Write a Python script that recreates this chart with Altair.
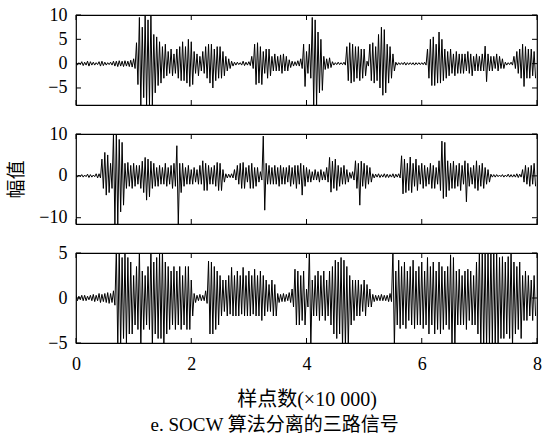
import altair as alt
import pandas as pd

# sample step of the envelope readings (x in units of 10 000 samples)
STEP = 0.05

# ---- panel 1: positive / negative peak envelope ----
p1_top = [
    0.3, 0.2, 0.4, 0.3, 0.5, 0.4, 0.3, 0.2, 0.4, 0.5, 0.3, 0.2, 0.3, 0.5, 0.5, 0.6, 0.5, 0.6, 0.5, 0.7,
    1.0, 4.3, 9.5, 7.5, 10.0, 9.0, 10.0, 6.0, 5.5, 4.5, 3.5, 4.0, 2.5, 3.0, 2.0, 3.0, 3.5, 4.5, 3.5, 5.0,
    4.5, 2.5, 2.0, 1.5, 2.5, 3.5, 4.0, 4.0, 3.0, 3.5, 3.5, 2.5, 1.5, 1.0, 0.5, 0.3, 0.3, 0.2, 0.5, 0.3,
    0.4, 1.5, 4.0, 4.3, 3.5, 2.5, 3.0, 3.0, 1.5, 2.0, 1.5, 1.8, 2.0, 1.5, 0.8, 0.5, 0.4, 0.6, 1.0, 4.0,
    2.5, 4.0, 9.5, 9.0, 6.5, 5.0, 1.5, 1.0, 1.2, 0.4, 0.2, 0.3, 0.2, 0.3, 3.5, 4.3, 4.0, 3.5, 3.5, 3.0,
    3.0, 0.5, 4.0, 4.3, 3.5, 6.0, 7.5, 7.0, 4.0, 3.5, 2.0, 0.3, 0.2, 0.2, 0.3, 0.2, 0.2, 0.2, 0.2, 0.2,
    0.2, 0.3, 3.0, 5.0, 5.5, 4.0, 6.5, 5.0, 3.0, 2.5, 3.0, 2.0, 2.5, 2.0, 2.0, 2.0, 2.5, 2.0, 1.5, 2.0,
    1.5, 2.0, 3.6, 2.0, 1.5, 1.5, 2.0, 1.5, 1.0, 0.3, 0.2, 0.3, 1.5, 2.5, 3.0, 4.0, 3.5, 3.0, 3.0, 2.5,
]
p1_bot = [
    -0.3, -0.2, -0.4, -0.3, -0.5, -0.3, -0.3, -0.2, -0.5, -0.4, -0.3, -0.2, -0.3, -0.5, -0.6, -0.5, -0.6, -0.5, -0.6, -0.7,
    -1.0, -4.3, -8.5, -7.0, -8.5, -8.5, -8.5, -6.0, -4.5, -4.0, -3.0, -2.5, -2.0, -2.5, -2.0, -3.0, -3.5, -3.5, -4.0, -4.7,
    -4.3, -2.0, -2.5, -1.5, -2.0, -3.0, -4.0, -5.0, -3.5, -3.0, -3.0, -2.5, -1.5, -1.0, -0.5, -0.3, -0.2, -0.3, -0.4, -0.3,
    -0.4, -1.0, -4.3, -4.0, -4.3, -2.0, -3.0, -2.5, -1.5, -1.5, -1.5, -2.0, -1.5, -1.5, -0.8, -0.5, -0.4, -0.5, -1.0, -4.7,
    -2.0, -3.0, -8.5, -8.5, -6.0, -5.5, -1.2, -1.0, -0.8, -0.3, -0.2, -0.2, -0.2, -0.3, -3.5, -4.0, -3.7, -3.0, -3.5, -3.0,
    -2.5, -0.5, -3.5, -4.0, -3.5, -5.0, -6.5, -6.0, -4.0, -3.0, -1.5, -0.3, -0.2, -0.2, -0.3, -0.2, -0.2, -0.3, -0.2, -0.2,
    -0.2, -0.3, -3.0, -4.5, -4.5, -4.0, -4.0, -3.5, -3.0, -2.5, -2.0, -2.5, -2.0, -2.0, -2.0, -1.5, -2.0, -2.5, -1.5, -1.5,
    -1.5, -1.5, -3.7, -1.5, -1.5, -1.0, -1.5, -1.0, -1.0, -0.3, -0.2, -0.3, -1.0, -2.0, -3.0, -4.7, -3.0, -3.0, -2.5, -3.0,
]

# ---- panel 2 ----
p2_top = [
    0.3, 0.2, 0.3, 0.2, 0.4, 0.3, 0.2, 0.5, 0.5, 4.0, 5.6, 5.0, 3.0, 10.0, 10.0, 8.7, 8.0, 3.0, 3.2, 2.5,
    3.0, 2.5, 2.5, 3.5, 4.4, 4.0, 3.5, 3.0, 2.0, 2.5, 2.0, 3.0, 2.0, 2.5, 3.0, 7.2, 3.0, 3.0, 2.0, 2.5,
    1.5, 2.0, 1.5, 2.5, 3.6, 3.0, 2.5, 2.0, 2.5, 3.2, 3.0, 1.5, 0.5, 0.4, 0.5, 1.5, 2.5, 3.0, 3.2, 2.0,
    2.5, 3.0, 2.0, 2.0, 1.0, 9.5, 3.0, 2.5, 2.0, 2.5, 2.0, 2.5, 2.0, 2.0, 2.5, 2.0, 2.5, 2.5, 3.0, 2.5,
    2.0, 1.5, 1.0, 1.5, 1.0, 1.5, 1.0, 2.0, 4.4, 3.5, 4.0, 2.5, 2.0, 2.5, 1.5, 0.8, 1.0, 3.6, 3.0, 3.5,
    3.0, 2.5, 2.0, 0.5, 0.4, 0.5, 0.3, 0.5, 0.4, 0.3, 0.5, 0.4, 0.5, 4.8, 4.0, 3.0, 4.5, 3.0, 4.0, 2.5,
    3.0, 2.5, 2.0, 3.0, 2.5, 2.0, 3.6, 8.3, 8.0, 3.6, 3.0, 3.5, 2.5, 3.0, 2.5, 3.6, 3.0, 2.0, 2.5, 3.6,
    2.5, 3.0, 2.0, 1.5, 0.4, 0.3, 0.3, 0.2, 0.3, 0.2, 0.4, 0.3, 0.3, 0.5, 0.4, 1.5, 2.5, 2.0, 2.5, 3.0,
]
p2_bot = [
    -0.3, -0.2, -0.3, -0.2, -0.4, -0.3, -0.2, -0.5, -0.5, -3.0, -4.6, -4.0, -3.0, -11.7, -11.7, -8.6, -7.0, -3.0, -2.5, -3.0,
    -2.5, -2.0, -3.0, -4.0, -5.8, -5.0, -3.0, -2.5, -2.5, -2.0, -2.0, -2.5, -2.0, -3.0, -2.5, -11.7, -4.0, -2.5, -2.0, -2.0,
    -2.0, -1.5, -2.0, -2.0, -3.5, -3.5, -2.0, -2.0, -2.5, -3.5, -3.5, -1.5, -0.5, -0.4, -0.5, -1.0, -2.0, -3.0, -3.0, -1.5,
    -3.0, -3.0, -2.5, -1.5, -1.0, -8.2, -2.0, -2.0, -2.0, -2.0, -2.5, -2.0, -2.0, -1.5, -2.5, -2.0, -3.0, -2.0, -4.6, -2.5,
    -1.5, -1.5, -1.0, -1.0, -1.5, -1.0, -1.0, -1.5, -3.9, -3.0, -3.5, -2.5, -2.0, -2.0, -1.5, -0.6, -1.0, -3.0, -7.0, -2.5,
    -3.0, -2.0, -1.5, -0.5, -0.3, -0.4, -0.3, -0.4, -0.4, -0.3, -0.5, -0.3, -0.5, -4.3, -4.0, -3.5, -4.0, -2.5, -3.5, -2.0,
    -3.0, -2.5, -2.0, -3.0, -3.0, -2.0, -3.5, -5.4, -5.0, -3.5, -3.0, -3.0, -2.5, -3.5, -2.0, -6.2, -2.5, -2.0, -3.0, -3.5,
    -2.5, -3.0, -2.0, -1.5, -0.3, -0.3, -0.2, -0.2, -0.3, -0.2, -0.3, -0.3, -0.3, -0.4, -0.3, -1.5, -2.0, -2.5, -2.0, -2.5,
]

# ---- panel 3 ----
p3_top = [
    0.3, 0.2, 0.3, 0.3, 0.2, 0.3, 0.4, 0.3, 0.5, 0.4, 0.5, 0.6, 0.5, 0.8, 5.5, 5.5, 4.5, 5.0, 4.5, 4.0,
    2.5, 3.5, 5.5, 3.0, 2.5, 3.5, 5.5, 4.0, 4.5, 5.0, 5.5, 4.0, 3.5, 3.0, 3.5, 3.0, 3.5, 2.5, 3.5, 3.5,
    2.0, 0.5, 0.3, 0.4, 0.3, 0.8, 4.1, 4.0, 3.5, 3.0, 2.5, 2.0, 2.0, 2.5, 3.4, 2.5, 3.0, 2.5, 3.4, 2.5,
    3.0, 2.5, 3.2, 2.5, 3.0, 2.5, 2.0, 1.5, 2.0, 1.5, 0.5, 0.4, 0.5, 0.4, 0.6, 1.0, 3.2, 3.0, 2.5, 3.0,
    1.0, 5.5, 2.0, 2.5, 3.0, 2.5, 3.0, 2.0, 3.0, 3.5, 4.2, 4.0, 4.5, 4.2, 3.5, 2.5, 2.0, 2.0, 2.0, 1.5,
    2.0, 1.5, 1.0, 0.4, 0.3, 0.3, 0.4, 0.3, 0.3, 0.5, 5.5, 3.0, 4.2, 3.5, 4.0, 3.0, 3.5, 4.2, 3.0, 3.5,
    4.0, 3.0, 4.5, 3.5, 4.0, 3.0, 4.0, 3.5, 3.0, 3.5, 4.8, 4.5, 3.0, 3.2, 2.5, 3.0, 3.2, 3.0, 2.5, 4.0,
    5.5, 5.5, 5.0, 5.5, 5.5, 5.5, 5.0, 4.5, 4.6, 4.0, 4.6, 5.5, 4.0, 3.5, 4.0, 2.5, 3.0, 2.5, 2.0, 2.5,
]
p3_bot = [
    -0.3, -0.2, -0.3, -0.3, -0.2, -0.3, -0.4, -0.3, -0.5, -0.4, -0.5, -0.6, -0.5, -0.8, -5.5, -5.5, -4.5, -5.0, -4.0, -4.0,
    -3.0, -3.5, -5.5, -3.5, -3.0, -3.5, -5.5, -4.0, -4.5, -4.5, -5.5, -4.0, -3.5, -3.0, -3.5, -3.0, -3.5, -3.0, -3.5, -3.5,
    -2.0, -0.5, -0.3, -0.3, -0.3, -0.6, -4.0, -4.0, -3.5, -3.0, -2.0, -1.5, -2.0, -1.8, -2.0, -2.0, -2.0, -1.8, -2.0, -2.0,
    -2.0, -1.8, -2.0, -2.0, -2.5, -2.0, -1.5, -1.5, -2.0, -2.0, -0.5, -0.4, -0.4, -0.3, -0.5, -1.0, -3.0, -3.0, -2.5, -3.0,
    -1.0, -5.5, -2.0, -2.0, -2.5, -2.0, -2.5, -2.0, -3.0, -4.0, -4.5, -4.0, -5.5, -5.5, -5.5, -3.0, -2.5, -2.0, -2.0, -1.5,
    -2.0, -1.0, -1.0, -0.4, -0.3, -0.3, -0.3, -0.3, -0.4, -0.4, -5.5, -3.0, -3.4, -3.0, -3.4, -2.5, -3.0, -3.4, -3.0, -3.0,
    -3.4, -3.0, -4.0, -3.0, -4.0, -3.5, -4.0, -3.5, -3.0, -3.5, -5.5, -5.5, -3.0, -3.0, -3.0, -3.5, -2.5, -3.0, -3.0, -4.0,
    -5.5, -5.5, -5.5, -5.5, -5.0, -5.5, -5.5, -4.5, -4.5, -4.0, -4.5, -5.5, -4.0, -3.5, -4.5, -2.5, -2.5, -2.0, -2.5, -2.0,
]

x_ticks = [0, 2, 4, 6, 8]
p1_yticks = [-5, 0, 5, 10]
p2_yticks = [-10, 0, 10]
p3_yticks = [-5, 0, 5]
p1_domain = [-8.5, 10]
p2_domain = [-11.5, 10]
p3_domain = [-5, 5]

x_title = "样点数(×10 000)"
y_title = "幅值"
caption = "e. SOCW 算法分离的三路信号"

W, H = 461, 90
TK = 5  # inward tick length (px)
FONT = "Liberation Serif, Noto Sans CJK SC"


def wave_frame(top, bot):
    xs, ys = [], []
    for i, (t, b) in enumerate(zip(top, bot)):
        xs.append(i * STEP)
        ys.append(t)
        xs.append(i * STEP + STEP / 2)
        ys.append(b)
    return pd.DataFrame({"x": xs, "y": ys})


def panel(top, bot, domain, yticks, show_x, title_y):
    xscale = alt.Scale(domain=[0, 8], nice=False, zero=False)
    yscale = alt.Scale(domain=domain, nice=False, zero=False)
    if show_x:
        xaxis = alt.Axis(values=x_ticks, ticks=False, domain=False, grid=False,
                         labels=True, labelPadding=12, labelFlush=False, format="d",
                         title=x_title, titlePadding=16, titleFontSize=20)
    else:
        xaxis = None
    yargs = dict(values=yticks, ticks=False, domain=False, grid=False,
                 labelPadding=9, format="d")
    if title_y:
        yargs.update(title=y_title, titlePadding=12, titleFontSize=19)
    else:
        yargs.update(title=None)
    yaxis = alt.Axis(**yargs)

    line = alt.Chart(wave_frame(top, bot)).mark_line(
        color="black", strokeWidth=1.0, clip=True
    ).encode(
        x=alt.X("x:Q", scale=xscale, axis=xaxis),
        y=alt.Y("y:Q", scale=yscale, axis=yaxis),
    )

    xt = pd.DataFrame({"v": x_ticks})
    yt = pd.DataFrame({"v": yticks})
    xt_top = alt.Chart(xt).mark_rule(color="black", strokeWidth=1).encode(
        x=alt.X("v:Q", scale=xscale, axis=xaxis), y=alt.value(0), y2=alt.value(TK))
    xt_bot = alt.Chart(xt).mark_rule(color="black", strokeWidth=1).encode(
        x=alt.X("v:Q", scale=xscale, axis=xaxis), y=alt.value(H - TK), y2=alt.value(H))
    yt_l = alt.Chart(yt).mark_rule(color="black", strokeWidth=1).encode(
        y=alt.Y("v:Q", scale=yscale, axis=yaxis), x=alt.value(0), x2=alt.value(TK))
    yt_r = alt.Chart(yt).mark_rule(color="black", strokeWidth=1).encode(
        y=alt.Y("v:Q", scale=yscale, axis=yaxis), x=alt.value(W - TK), x2=alt.value(W))

    return alt.layer(line, xt_top, xt_bot, yt_l, yt_r).properties(width=W, height=H)


chart = alt.vconcat(
    panel(p1_top, p1_bot, p1_domain, p1_yticks, False, False),
    panel(p2_top, p2_bot, p2_domain, p2_yticks, False, True),
    panel(p3_top, p3_bot, p3_domain, p3_yticks, True, False),
    spacing=29,
    bounds="flush",
).properties(
    title=alt.TitleParams(caption, orient="bottom", anchor="middle", fontSize=19,
                          fontWeight="normal", font=FONT, color="black", offset=6),
    padding={"left": 7, "top": 5, "right": 0, "bottom": 0},
    background="white",
).configure_view(
    stroke="black", strokeWidth=1.2
).configure_axis(
    labelFont=FONT, titleFont=FONT, labelFontSize=18, titleFontSize=20,
    labelColor="black", titleColor="black", titleFontWeight="normal",
)

chart.save("out.html", embed_options={"renderer": "svg", "actions": False})
